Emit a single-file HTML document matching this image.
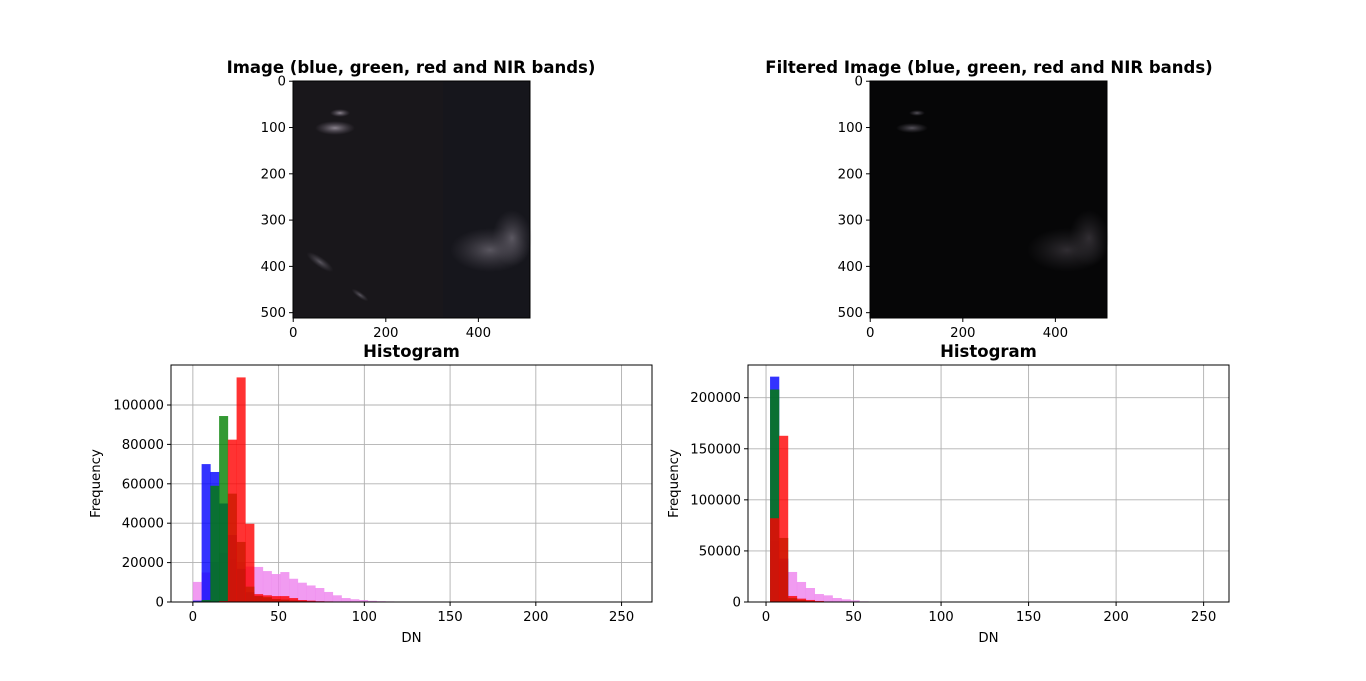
<!DOCTYPE html>
<html><head><meta charset="utf-8">
<style>
body{margin:0;background:#fff;}
svg text{font-family:"DejaVu Sans","Liberation Sans",sans-serif;}
</style></head>
<body>
<svg id="fig" width="1366" height="676" xmlns="http://www.w3.org/2000/svg">
<defs>
<radialGradient id="cloud" cx="50%" cy="50%" r="50%"><stop offset="0" stop-color="#6a6670" stop-opacity="0.8"/><stop offset="1" stop-color="#4a4650" stop-opacity="0"/></radialGradient>
<radialGradient id="cloudW" cx="50%" cy="50%" r="50%"><stop offset="0" stop-color="#a8a0ac" stop-opacity="0.8"/><stop offset="1" stop-color="#6a6070" stop-opacity="0"/></radialGradient>
<radialGradient id="cloudF" cx="50%" cy="50%" r="50%"><stop offset="0" stop-color="#3a363c" stop-opacity="0.8"/><stop offset="1" stop-color="#2a282c" stop-opacity="0"/></radialGradient>
</defs>
<text x="411" y="73" font-size="16.5" font-weight="bold" text-anchor="middle">Image (blue, green, red and NIR bands)</text>
<g>
<rect x="293" y="81" width="237" height="237" fill="#16161c"/>
<rect x="293" y="81" width="150" height="237" fill="#1b1719" opacity="0.5"/>
<ellipse cx="490" cy="250" rx="40" ry="22" fill="url(#cloud)"/>
<ellipse cx="512" cy="238" rx="20" ry="28" fill="url(#cloud)"/>
<ellipse cx="335" cy="128" rx="20" ry="7" fill="url(#cloudW)"/>
<ellipse cx="340" cy="113" rx="10" ry="4" fill="url(#cloudW)"/>
<ellipse cx="320" cy="262" rx="16" ry="5" fill="url(#cloud)" transform="rotate(35 320 262)"/>
<ellipse cx="360" cy="295" rx="10" ry="3" fill="url(#cloud)" transform="rotate(35 360 295)"/>
<rect x="293" y="81" width="237" height="237" fill="none" stroke="#000" stroke-width="1"/>
</g>
<text x="989" y="73" font-size="16.5" font-weight="bold" text-anchor="middle">Filtered Image (blue, green, red and NIR bands)</text>
<g>
<rect x="870" y="81" width="237" height="237" fill="#060607"/>
<ellipse cx="1067" cy="250" rx="40" ry="22" fill="url(#cloudF)"/>
<ellipse cx="1089" cy="238" rx="20" ry="28" fill="url(#cloudF)"/>
<ellipse cx="912" cy="128" rx="16" ry="5" fill="url(#cloud)"/>
<ellipse cx="917" cy="113" rx="8" ry="3" fill="url(#cloud)"/>
<rect x="870" y="81" width="237" height="237" fill="none" stroke="#000" stroke-width="1"/>
</g>
<g id="imgaxes"></g>
<g id="h1"></g>
<g id="h2"></g>
</svg>
<script>
const NS="http://www.w3.org/2000/svg";
function mk(parent,tag,attrs,text){const e=document.createElementNS(NS,tag);for(const k in attrs)e.setAttribute(k,attrs[k]);if(text!==undefined)e.textContent=text;parent.appendChild(e);return e;}

const imgTicks=[0,100,200,300,400,500];
const imgXTicks=[0,200,400];
const ia=document.getElementById('imgaxes');
[[293,81],[870,81]].forEach(([x0,y0],k)=>{
  const s=237/512;
  imgTicks.forEach(t=>{const y=y0+t*s+0.23;
    mk(ia,'line',{x1:x0-4,x2:x0,y1:y,y2:y,stroke:'#000'});
    const tx=mk(ia,'text',{x:x0-7,y:y+4.5,'font-size':13.3,'text-anchor':'end'},String(t));
    
    
  });
  imgXTicks.forEach(t=>{const x=x0+t*s+0.23;
    mk(ia,'line',{x1:x,x2:x,y1:318,y2:322,stroke:'#000'});
    const tx=mk(ia,'text',{x:x,y:337,'font-size':13.3,'text-anchor':'middle'},String(t));
    
    
  });
});

const h1Violet=[10200,15000,20000,25000,22000,20000,18000,17800,15700,14200,15200,11800,9800,8400,7100,5100,3400,2000,1400,1000,600,400,300,200,150,100,80,60,40,30,20,10,5,0,0,0,0,0,0,0,0,0,0,0,0,0,0,0,0,0];
const h1Blue=[700,70000,66000,50000,34000,16800,5000,3000,2000,1500,1200,800,600,400,300,200,150,100,80,60,40,30,20,10,0,0,0,0,0,0,0,0,0,0,0,0,0,0,0,0,0,0,0,0,0,0,0,0,0,0];
const h1Green=[300,1000,59000,94400,55000,30500,7800,3000,2500,1500,1200,800,500,300,200,150,100,60,40,20,10,0,0,0,0,0,0,0,0,0,0,0,0,0,0,0,0,0,0,0,0,0,0,0,0,0,0,0,0,0];
const h1Red=[0,0,0,500,82400,114000,39700,4000,3400,3000,3000,2000,1000,700,400,300,200,100,80,50,30,20,10,0,0,0,0,0,0,0,0,0,0,0,0,0,0,0,0,0,0,0,0,0,0,0,0,0,0,0];
const h2Violet=[60000,40000,29400,19600,13700,7800,6500,3900,2600,1600,600,300,300,200,150,100,80,60,40,30,20,10,0,0,0,0,0,0,0,0,0,0,0,0,0,0,0,0,0,0,0,0,0,0,0,0,0,0,0,0];
const h2Blue=[220600,42500,3000,1500,800,400,200,100,0,0,0,0,0,0,0,0,0,0,0,0,0,0,0,0,0,0,0,0,0,0,0,0,0,0,0,0,0,0,0,0,0,0,0,0,0,0,0,0,0,0];
const h2Green=[208000,62700,4000,2000,1000,500,200,100,0,0,0,0,0,0,0,0,0,0,0,0,0,0,0,0,0,0,0,0,0,0,0,0,0,0,0,0,0,0,0,0,0,0,0,0,0,0,0,0,0,0];
const h2Red=[82000,162700,5900,3300,2000,1000,500,300,200,100,50,0,0,0,0,0,0,0,0,0,0,0,0,0,0,0,0,0,0,0,0,0,0,0,0,0,0,0,0,0,0,0,0,0,0,0,0,0,0,0];
const xTicks=[0,50,100,150,200,250];
const h1YTicks=[0,20000,40000,60000,80000,100000];
const h2YTicks=[0,50000,100000,150000,200000];
const binWidth=5.1;

function hist(gid,opt){
  const g=document.getElementById(gid);
  const {left,right,top,bottom,xmin,xmax,ymax,yTicks,series,start}=opt;
  const sx=v=>left+(v-xmin)/(xmax-xmin)*(right-left);
  const sy=v=>bottom-v/ymax*(bottom-top);
  xTicks.forEach(t=>{mk(g,'line',{x1:sx(t),x2:sx(t),y1:top,y2:bottom,stroke:'#b0b0b0','stroke-width':0.9});});
  yTicks.forEach(t=>{mk(g,'line',{x1:left,x2:right,y1:sy(t),y2:sy(t),stroke:'#b0b0b0','stroke-width':0.9});});
  series.forEach(([vals,color,name])=>{
    vals.forEach((v,i)=>{ if(v<=0)return;
      const x0=sx(start+i*binWidth),x1=sx(start+(i+1)*binWidth);
      const r=mk(g,'rect',{x:x0,y:sy(v),width:x1-x0+0.3,height:bottom-sy(v),fill:color,'fill-opacity':0.8});
      
      
    });
  });
  mk(g,'rect',{x:left,y:top,width:right-left,height:bottom-top,fill:'none',stroke:'#000','stroke-width':1});
  xTicks.forEach(t=>{mk(g,'line',{x1:sx(t),x2:sx(t),y1:bottom,y2:bottom+4,stroke:'#000'});
    const tx=mk(g,'text',{x:sx(t),y:bottom+19,'font-size':13.3,'text-anchor':'middle'},String(t));
    
    });
  yTicks.forEach(t=>{mk(g,'line',{x1:left-4,x2:left,y1:sy(t),y2:sy(t),stroke:'#000'});
    const tx=mk(g,'text',{x:left-7,y:sy(t)+4.5,'font-size':13.3,'text-anchor':'end'},String(t));
    
    });
  const t=mk(g,'text',{x:(left+right)/2,y:top-8,'font-size':16.5,'font-weight':'bold','text-anchor':'middle'},'Histogram');
  
  
  const xl=mk(g,'text',{x:(left+right)/2,y:bottom+40,'font-size':13.3,'text-anchor':'middle'},'DN');
  
  
  const yx=opt.ylabelX,yy=(top+bottom)/2;
  const yl=mk(g,'text',{x:yx,y:yy,'font-size':13.3,'text-anchor':'middle',transform:`rotate(-90 ${yx} ${yy})`},'Frequency');
  
  
}
hist('h1',{left:171,right:652,top:365,bottom:602,xmin:-12.75,xmax:267.75,ymax:120300,yTicks:h1YTicks,start:0,ylabelX:100,
  series:[[h1Violet,'violet','nir'],[h1Blue,'blue','blue'],[h1Green,'green','green'],[h1Red,'red','red']]});
hist('h2',{left:748,right:1229,top:365,bottom:602,xmin:-10.3,xmax:264.5,ymax:232000,yTicks:h2YTicks,start:2.3,ylabelX:678,
  series:[[h2Violet,'violet','nir'],[h2Blue,'blue','blue'],[h2Green,'green','green'],[h2Red,'red','red']]});
</script>
</body></html>
